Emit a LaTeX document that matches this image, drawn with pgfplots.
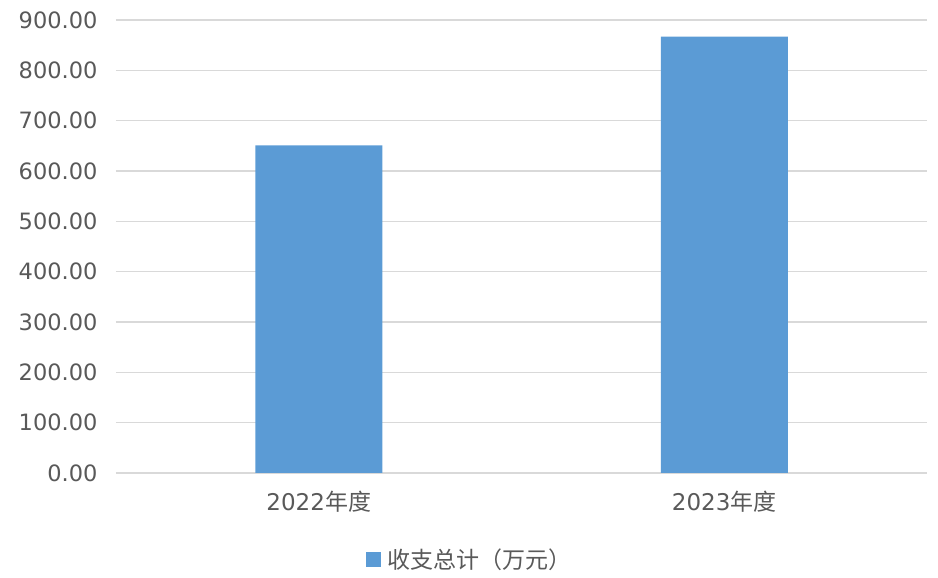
\documentclass[border=0pt]{standalone}
\usepackage{pgfplots}
\pgfplotsset{compat=1.18}
\usepackage{fontspec}
\setmainfont{DejaVu Sans}
\newfontfamily\cjk{Noto Sans CJK SC}
\definecolor{barblue}{HTML}{5B9BD5}
\definecolor{txt}{HTML}{595959}
\definecolor{gridgray}{HTML}{D9D9D9}
\begin{document}
\begin{tikzpicture}[x=1pt,y=1pt]
\path[use as bounding box] (0,0) rectangle (938,578);
\begin{axis}[
  at={(116pt,105pt)}, anchor=south west,
  scale only axis, width=811pt, height=453pt,
  xmin=-0.5, xmax=1.5, ymin=0, ymax=900,
  xtick=data, xticklabels={2022{\cjk 年度},2023{\cjk 年度}},
  ytick={0,100,...,900},
  /pgf/number format/assume math mode=true,
  ticklabel style={text=txt},
  yticklabel style={/pgf/number format/fixed,/pgf/number format/fixed zerofill,/pgf/number format/precision=2, xshift=-15pt, font=\fontsize{22.5}{26}\selectfont},
  xticklabel style={yshift=-15pt, font=\fontsize{23}{27}\selectfont},
  major tick length=0pt,
  axis line style={draw=none},
  ymajorgrids, xmajorgrids=false, grid style={color=gridgray, line width=1.5pt},
  legend style={at={(0.4365,-0.19)}, anchor=center, draw=none,
    font=\fontsize{23}{27}\selectfont\cjk, text=txt},
  legend image code/.code={\fill[#1] (0pt,-7.5pt) rectangle (15pt,7.5pt);},
]
\addplot[ybar, bar width=127pt, fill=barblue, draw=none] coordinates {(0,651) (1,867)};
\addlegendentry{\hspace{4pt}收支总计（万元）}
\end{axis}
\end{tikzpicture}
\end{document}
